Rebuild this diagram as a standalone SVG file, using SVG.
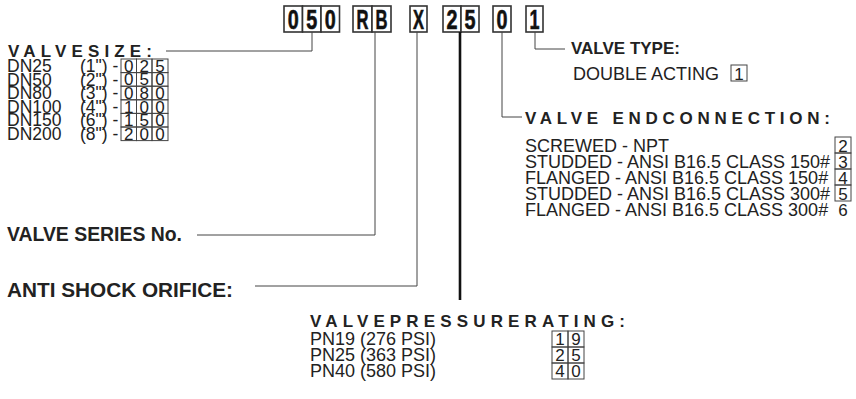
<svg xmlns="http://www.w3.org/2000/svg" width="856" height="399" viewBox="0 0 856 399">
<style>
text{font-family:"Liberation Sans",Arial,sans-serif;fill:#222}
.b{font-weight:bold}
.h{font-weight:bold;font-size:17px}
.r{font-size:18px}
.r2{font-size:17.5px}
.code{font-weight:bold;font-size:27px;text-anchor:middle;fill:#111;stroke:#111;stroke-width:0.6}
.cb{fill:#fff;stroke:#333;stroke-width:1.6}
.sb{fill:none;stroke:#444;stroke-width:1}
.d{font-size:17px;text-anchor:middle}
.lead{fill:none;stroke:#444;stroke-width:1}
.thick{fill:none;stroke:#111;stroke-width:2.6}
</style>
<g id="code">
<rect class="cb" x="284" y="6" width="18.5" height="26"/><rect class="cb" x="302.5" y="6" width="18.5" height="26"/><rect class="cb" x="321" y="6" width="18.5" height="26"/>
<text class="code" x="293.2" y="29" textLength="11" lengthAdjust="spacingAndGlyphs">0</text>
<text class="code" x="311.7" y="29" textLength="11" lengthAdjust="spacingAndGlyphs">5</text>
<text class="code" x="330.2" y="29" textLength="11" lengthAdjust="spacingAndGlyphs">0</text>
<rect class="cb" x="353" y="6" width="19" height="26"/><rect class="cb" x="372" y="6" width="19" height="26"/>
<text class="code" x="362.5" y="29" textLength="12" lengthAdjust="spacingAndGlyphs">R</text>
<text class="code" x="381.5" y="29" textLength="12" lengthAdjust="spacingAndGlyphs">B</text>
<rect class="cb" x="410" y="6" width="17" height="26"/>
<text class="code" x="418.5" y="29" textLength="11" lengthAdjust="spacingAndGlyphs">X</text>
<rect class="cb" x="443" y="6" width="18" height="26"/><rect class="cb" x="461" y="6" width="18" height="26"/>
<text class="code" x="452" y="29" textLength="11" lengthAdjust="spacingAndGlyphs">2</text>
<text class="code" x="470" y="29" textLength="11" lengthAdjust="spacingAndGlyphs">5</text>
<rect class="cb" x="493" y="6" width="18" height="26"/>
<text class="code" x="502" y="29" textLength="11" lengthAdjust="spacingAndGlyphs">0</text>
<rect class="cb" x="526" y="6" width="17" height="26"/>
<text class="code" x="534.5" y="29" textLength="10" lengthAdjust="spacingAndGlyphs">1</text>
</g>
<g id="connectors">
<polyline class="lead" points="312,32 312,51 166,51"/>
<polyline class="lead" points="375,32 375,235 197,235"/>
<polyline class="lead" points="417,32 417,286 255,286"/>
<line class="thick" x1="460" y1="32" x2="460" y2="300"/>
<polyline class="lead" points="502,32 502,117 522,117"/>
<polyline class="lead" points="535,32 535,49 565,49"/>
</g>
<g id="valve-size">
<text class="h" x="8" y="57" textLength="144" lengthAdjust="spacing">VALVESIZE:</text>
<g class="r2">
<text x="7" y="72">DN25</text><text x="80" y="72">(1") -</text>
<text x="7" y="85.6">DN50</text><text x="80" y="85.6">(2") -</text>
<text x="7" y="99.2">DN80</text><text x="80" y="99.2">(3") -</text>
<text x="7" y="112.8">DN100</text><text x="80" y="112.8">(4") -</text>
<text x="7" y="126.4">DN150</text><text x="80" y="126.4">(6") -</text>
<text x="7" y="140">DN200</text><text x="80" y="140">(8") -</text>
</g>
<g>
<rect class="sb" x="121" y="59" width="15.5" height="13.6"/><rect class="sb" x="136.5" y="59" width="15.5" height="13.6"/><rect class="sb" x="152" y="59" width="16" height="13.6"/>
<rect class="sb" x="121" y="72.6" width="15.5" height="13.6"/><rect class="sb" x="136.5" y="72.6" width="15.5" height="13.6"/><rect class="sb" x="152" y="72.6" width="16" height="13.6"/>
<rect class="sb" x="121" y="86.2" width="15.5" height="13.6"/><rect class="sb" x="136.5" y="86.2" width="15.5" height="13.6"/><rect class="sb" x="152" y="86.2" width="16" height="13.6"/>
<rect class="sb" x="121" y="99.8" width="15.5" height="13.6"/><rect class="sb" x="136.5" y="99.8" width="15.5" height="13.6"/><rect class="sb" x="152" y="99.8" width="16" height="13.6"/>
<rect class="sb" x="121" y="113.4" width="15.5" height="13.6"/><rect class="sb" x="136.5" y="113.4" width="15.5" height="13.6"/><rect class="sb" x="152" y="113.4" width="16" height="13.6"/>
<rect class="sb" x="121" y="127" width="15.5" height="13.6"/><rect class="sb" x="136.5" y="127" width="15.5" height="13.6"/><rect class="sb" x="152" y="127" width="16" height="13.6"/>
</g>
<g class="d">
<text x="128.7" y="71.8">0</text><text x="144.2" y="71.8">2</text><text x="160" y="71.8">5</text>
<text x="128.7" y="85.4">0</text><text x="144.2" y="85.4">5</text><text x="160" y="85.4">0</text>
<text x="128.7" y="99">0</text><text x="144.2" y="99">8</text><text x="160" y="99">0</text>
<text x="128.7" y="112.6">1</text><text x="144.2" y="112.6">0</text><text x="160" y="112.6">0</text>
<text x="128.7" y="126.2">1</text><text x="144.2" y="126.2">5</text><text x="160" y="126.2">0</text>
<text x="128.7" y="139.8">2</text><text x="144.2" y="139.8">0</text><text x="160" y="139.8">0</text>
</g>
</g>
<g id="valve-series">
<text class="b" x="7" y="241" font-size="20" textLength="175" lengthAdjust="spacingAndGlyphs">VALVE SERIES No.</text>
</g>
<g id="anti-shock">
<text class="b" x="7" y="297" font-size="20.5" textLength="226" lengthAdjust="spacingAndGlyphs">ANTI SHOCK ORIFICE:</text>
</g>
<g id="valve-type">
<text class="h" x="571" y="54">VALVE TYPE:</text>
<text class="r" x="573" y="80">DOUBLE ACTING</text>
<rect class="sb" x="731" y="65" width="16" height="16"/>
<text class="d" x="739" y="80">1</text>
</g>
<g id="end-connection">
<text class="h" x="525" y="124" textLength="305" lengthAdjust="spacing">VALVE ENDCONNECTION:</text>
<g class="r">
<text x="525" y="152">SCREWED - NPT</text>
<text x="525" y="168">STUDDED - ANSI B16.5 CLASS 150#</text>
<text x="525" y="184">FLANGED - ANSI B16.5 CLASS 150#</text>
<text x="525" y="200">STUDDED - ANSI B16.5 CLASS 300#</text>
<text x="525" y="216">FLANGED - ANSI B16.5 CLASS 300#</text>
</g>
<rect class="sb" x="835" y="137" width="16" height="16"/>
<rect class="sb" x="835" y="153" width="16" height="16"/>
<rect class="sb" x="835" y="169" width="16" height="16"/>
<rect class="sb" x="835" y="185" width="16" height="16"/>
<g class="d">
<text x="843" y="152">2</text><text x="843" y="168">3</text><text x="843" y="184">4</text><text x="843" y="200">5</text><text x="843" y="216">6</text>
</g>
</g>
<g id="pressure-rating">
<text class="h" x="310" y="327" textLength="315" lengthAdjust="spacing">VALVEPRESSURERATING:</text>
<g class="r">
<text x="310" y="345">PN19 (276 PSI)</text>
<text x="310" y="361">PN25 (363 PSI)</text>
<text x="310" y="377">PN40 (580 PSI)</text>
</g>
<rect class="sb" x="552" y="331" width="16" height="16"/><rect class="sb" x="568" y="331" width="16" height="16"/>
<rect class="sb" x="552" y="347" width="16" height="16"/><rect class="sb" x="568" y="347" width="16" height="16"/>
<rect class="sb" x="552" y="363" width="16" height="16"/><rect class="sb" x="568" y="363" width="16" height="16"/>
<g class="d">
<text x="560" y="345">1</text><text x="576" y="345">9</text>
<text x="560" y="361">2</text><text x="576" y="361">5</text>
<text x="560" y="377">4</text><text x="576" y="377">0</text>
</g>
</g>
</svg>
